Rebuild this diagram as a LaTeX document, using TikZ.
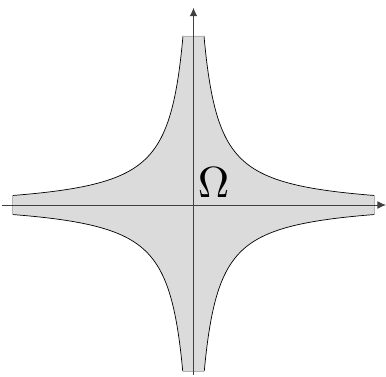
\documentclass[tikz,border=0pt]{standalone}
\usepackage{amsmath}
\usetikzlibrary{arrows.meta}

\begin{document}
\begin{tikzpicture}[axis/.style={draw=black!75, line width=0.6pt},
    bound/.style={draw=black, line width=0.5pt}]
  \useasboundingbox (-4.8375,-4.275) rectangle (4.8125,5.125);
  \def\hk{1.6875}
  \def\ha{0.125}
  % the region (|x|+a)(|y|+a) < k
  \fill[gray!28]
    plot[domain={ln(0.3875)}:{ln(4.645)}, samples=80] ({exp(\x)-\ha}, {\hk*exp(-\x)-\ha})
    -- plot[domain={ln(4.645)}:{ln(0.3947)}, samples=80] ({exp(\x)-\ha}, {\ha-\hk*exp(-\x)})
    -- plot[domain={ln(0.3947)}:{ln(4.645)}, samples=80] ({\ha-exp(\x)}, {\ha-\hk*exp(-\x)})
    -- plot[domain={ln(4.645)}:{ln(0.3875)}, samples=80] ({\ha-exp(\x)}, {\hk*exp(-\x)-\ha})
    -- cycle;
  \draw[bound] plot[domain={ln(0.3875)}:{ln(4.645)}, samples=80] ({exp(\x)-\ha}, {\hk*exp(-\x)-\ha});
  \draw[bound] plot[domain={ln(0.3947)}:{ln(4.645)}, samples=80] ({exp(\x)-\ha}, {\ha-\hk*exp(-\x)});
  \draw[bound] plot[domain={ln(0.3947)}:{ln(4.645)}, samples=80] ({\ha-exp(\x)}, {\ha-\hk*exp(-\x)});
  \draw[bound] plot[domain={ln(0.3875)}:{ln(4.645)}, samples=80] ({\ha-exp(\x)}, {\hk*exp(-\x)-\ha});
  \draw[gray!60, line width=0.4pt] (-0.2625,4.23) -- (0.2625,4.23);
  \draw[gray!60, line width=0.4pt] (-0.27,-4.15) -- (0.27,-4.15);
  \draw[gray!60, line width=0.4pt] (4.52,-0.238) -- (4.52,0.238);
  \draw[gray!60, line width=0.4pt] (-4.52,-0.238) -- (-4.52,0.238);
  % axes
  \coordinate (xl) at (-4.79,0);
  \coordinate (xr) at (4.81,0);
  \coordinate (yb) at (0,-4.25);
  \coordinate (yt) at (0,4.93);
  \draw[axis, -{Latex[length=6pt, width=5.5pt]}] (xl) -- (xr);
  \draw[axis, -{Latex[length=6pt, width=5.5pt]}] (yb) -- (yt);
  \node[scale=3.1] (Omega) at (0.5,0.55) {$\Omega$};
\end{tikzpicture}
\end{document}
